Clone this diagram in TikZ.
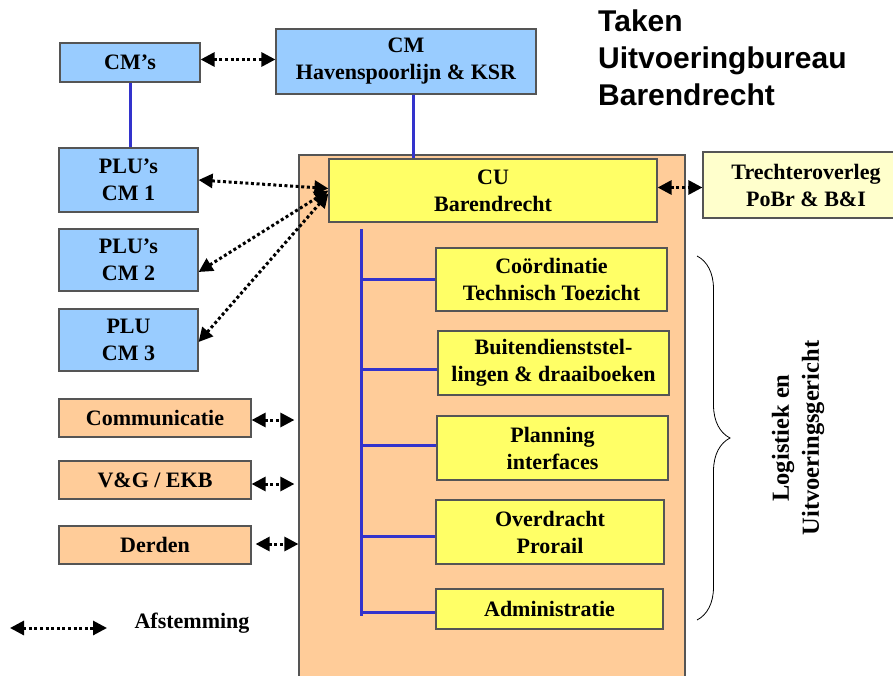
\documentclass[tikz,border=0pt]{standalone}
\usepackage{fontspec}
\setmainfont{Liberation Serif}
\newfontfamily\headfont{Liberation Sans}
\usetikzlibrary{arrows.meta,decorations.pathreplacing}

\definecolor{boxblue}{HTML}{99CCFF}
\definecolor{boxorange}{HTML}{FFCC99}
\definecolor{boxyellow}{HTML}{FFFF66}
\definecolor{paleyellow}{HTML}{FFFFCC}
\definecolor{linkblue}{HTML}{3333CC}
\definecolor{edgegray}{HTML}{555555}

\begin{document}
\begin{tikzpicture}[x=1pt,y=-1pt,
  box/.style={draw=edgegray, line width=1.2pt, inner sep=0pt, align=center,
    font=\fontsize{22}{27}\selectfont\bfseries},
  bluebox/.style={box, fill=boxblue},
  orangebox/.style={box, fill=boxorange},
  taskbox/.style={box, fill=boxyellow},
  link/.style={linkblue, line width=3pt},
  sync/.style={line width=3pt, dash pattern=on 3pt off 2.6pt,
    {Triangle[length=14pt,width=14pt]}-{Triangle[length=14pt,width=14pt]}},
  plain/.style={font=\fontsize{22}{30}\selectfont\bfseries, align=center, inner sep=0pt}
]
\useasboundingbox (0,0) rectangle (893,676);
\clip (0,0) rectangle (893,676);

% uitvoeringsbureau (achtergrondvlak)
\node[orangebox, minimum width=386, minimum height=560] (unit) at (492,435) {};

% bovenste laag
\node[bluebox, minimum width=140, minimum height=39] (cms) at (130,62.5) {CM’s};
\node[bluebox, minimum width=260, minimum height=65] (cmh) at (406,61.5) {CM\\Havenspoorlijn \& KSR};

% PLU's
\node[bluebox, minimum width=139, minimum height=64] (plu1) at (128.5,180) {PLU’s\\CM 1};
\node[bluebox, minimum width=139, minimum height=62] (plu2) at (128.5,260) {PLU’s\\CM 2};
\node[bluebox, minimum width=139, minimum height=62] (plu3) at (128.5,340) {PLU\\CM 3};

% ondersteunende functies
\node[orangebox, minimum width=192, minimum height=38] (comm) at (155,418) {Communicatie};
\node[orangebox, minimum width=192, minimum height=38] (vg) at (155,480) {V\&G / EKB};
\node[orangebox, minimum width=192, minimum height=38] (derden) at (155,545) {Derden};

% CU en overleg
\node[taskbox, minimum width=328, minimum height=63] (cu) at (493,190.5) {CU\\Barendrecht};
\node[box, fill=paleyellow, minimum width=206, minimum height=66] (trecht) at (806,185) {Trechteroverleg\\PoBr \& B\&I};

% taken
\node[taskbox, minimum width=231, minimum height=63] (coord) at (551.5,279.5) {Coördinatie\\Technisch Toezicht};
\node[taskbox, minimum width=231, minimum height=64] (buiten) at (553.5,363) {Buitendienststel-\\lingen \& draaiboeken};
\node[taskbox, minimum width=231, minimum height=64] (plan) at (552.5,448) {Planning\\interfaces};
\node[taskbox, minimum width=228, minimum height=64] (overd) at (550,532) {Overdracht\\Prorail};
\node[taskbox, minimum width=227, minimum height=40] (admin) at (549.5,609) {Administratie};

% lijnverbanden
\draw[link] (cms.south) -- (cms.south |- plu1.north);
\draw[link] ([xshift=7pt]cmh.south) -- ([xshift=-80pt]cu.north);
\coordinate (spinetop) at (361,229);
\coordinate (spinebot) at (361,616);
\draw[link] (spinetop) -- (spinebot);
\draw[link] (spinetop |- coord.west) -- (coord.west);
\draw[link] ([yshift=-6pt]spinetop |- buiten.west) -- ([yshift=-6pt]buiten.west);
\draw[link] ([yshift=3pt]spinetop |- plan.west) -- ([yshift=3pt]plan.west);
\draw[link] ([yshift=-4pt]spinetop |- overd.west) -- ([yshift=-4pt]overd.west);
\draw[link] ([yshift=-3pt]spinetop |- admin.west) -- ([yshift=-3pt]admin.west);

% afstemming
\draw[sync] ([yshift=3pt]cms.east) -- ([yshift=3pt]cms.east -| cmh.west);
\draw[sync] ([yshift=3pt]cu.east) -- ([yshift=3pt]cu.east -| trecht.west);
\draw[sync] (plu1.east) -- ([yshift=2pt]cu.west);
\draw[sync] ([yshift=-12pt]plu2.east) -- (cu.west);
\draw[sync] ([yshift=-2pt]plu3.east) -- ([yshift=-3pt]cu.west);
\draw[sync, shorten >=4pt] ([yshift=-2pt]comm.east) -- ([yshift=-2pt]comm.east -| unit.west);
\draw[sync, shorten >=4pt] ([yshift=-4pt]vg.east) -- ([yshift=-4pt]vg.east -| unit.west);
\draw[sync, shorten <=4pt] ([yshift=1pt]derden.east) -- ([yshift=1pt]derden.east -| unit.west);

% accolade en toelichting
\draw[line width=0.8pt, decorate, decoration={brace, amplitude=33pt}] (697,256) -- (697,620);
\node[plain, rotate=90, font=\fontsize{24.5}{30}\selectfont\bfseries] (scope) at (798,438) {Logistiek en\\Uitvoeringsgericht};

% titel
\node[anchor=north west, inner sep=0pt, align=left,
  font=\headfont\fontsize{30}{37}\selectfont\bfseries] (title) at (598,10)
  {Taken\\Uitvoeringbureau\\Barendrecht};

% legenda
\coordinate (legA) at (10,628);
\coordinate (legB) at (107,628);
\draw[sync] (legA) -- (legB);
\node[plain] (legtext) at (192,623) {Afstemming};
\end{tikzpicture}
\end{document}
